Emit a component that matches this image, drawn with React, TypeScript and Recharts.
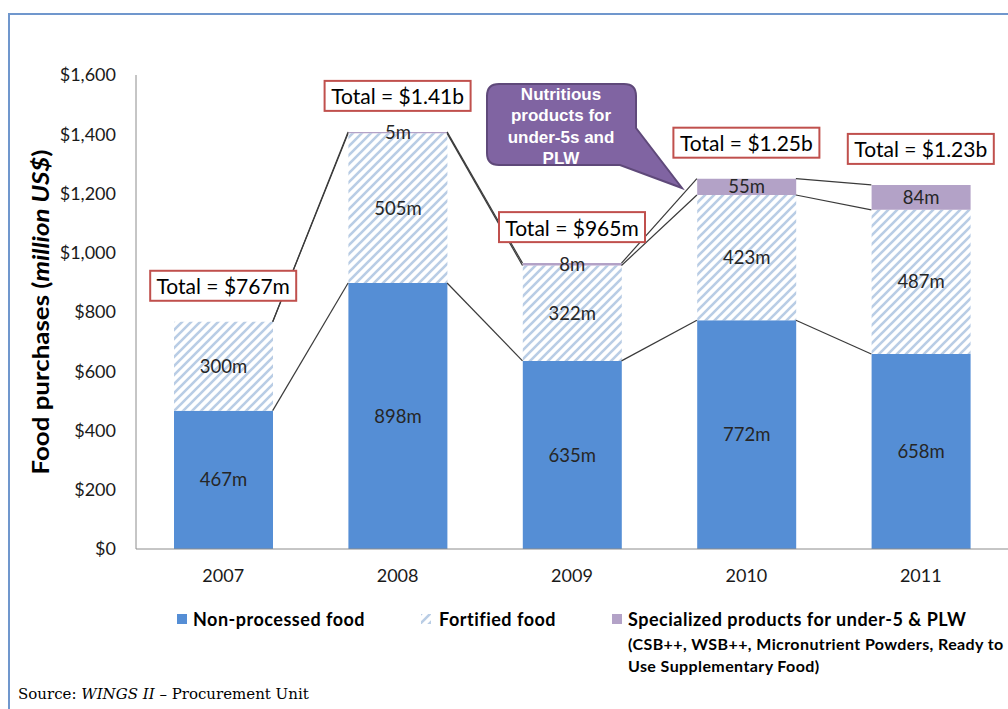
import React from 'react';
import { ComposedChart, Bar, XAxis, YAxis, ReferenceLine, Scatter, LabelList } from 'recharts';

const years = ['2007', '2008', '2009', '2010', '2011'];
const nonProcessed = [467, 898, 635, 772, 658];
const fortified = [300, 505, 322, 423, 487];
const specialized = [0, 5, 8, 55, 84];
const totalLabels = ['Total = $767m', 'Total = $1.41b', 'Total = $965m', 'Total = $1.25b', 'Total = $1.23b'];
const yTicks = [0, 200, 400, 600, 800, 1000, 1200, 1400, 1600];

const FONT = 'Lato, "Noto Sans", sans-serif';
const CHART_W = 1010;
const CHART_H = 709;
const MARGIN = { top: 75, right: 2, bottom: 130, left: 76 };
const YAXIS_W = 60;
const BAR_SIZE = 99;
const plotW = CHART_W - MARGIN.left - MARGIN.right - YAXIS_W;
const step = plotW / years.length;
const HALF = BAR_SIZE / step / 2;

const BLUE = '#558ed5';
const HATCH = '#b9cde5';
const PURPLE = '#b3a2c7';

const data = years.map((year, i) => ({
  idx: i,
  year,
  np: nonProcessed[i],
  fo: fortified[i],
  sp: specialized[i],
  total: nonProcessed[i] + fortified[i] + specialized[i],
  label: totalLabels[i],
}));

const levels = [
  data.map((d) => d.np),
  data.map((d) => d.np + d.fo),
  data.map((d) => d.np + d.fo + d.sp),
];

const segments: { x: number; y: number }[][] = [];
levels.forEach((lv) => {
  for (let i = 0; i < lv.length - 1; i++) {
    segments.push([
      { x: i + HALF, y: lv[i] },
      { x: i + 1 - HALF, y: lv[i + 1] },
    ]);
  }
});

const fmtM = (v: any) => (v ? `${v}m` : '');

const TotalBox = (props: any) => {
  const { cx, cy, payload } = props;
  if (cx == null || cy == null) return null;
  const w = 146;
  const h = 30;
  const gap = 21;
  return (
    <g>
      <rect x={cx - w / 2} y={cy - gap - h} width={w} height={h} fill="#fff" stroke="#c0504d" strokeWidth={2} />
      <text
        x={cx}
        y={cy - gap - h / 2}
        textAnchor="middle"
        dominantBaseline="central"
        fontSize={21}
        fontFamily={FONT}
        fill="#000"
      >
        {payload.label}
      </text>
    </g>
  );
};

const HatchDefs = ({ id }: { id: string }) => (
  <defs>
    <pattern id={id} patternUnits="userSpaceOnUse" width={9} height={9}>
      <rect width={9} height={9} fill="#fff" />
      <path d="M-2,2 L2,-2 M0,9 L9,0 M7,11 L11,7" stroke={HATCH} strokeWidth={2.6} />
    </pattern>
  </defs>
);

const legendText = { fontFamily: FONT, fontWeight: 'bold' as const, fill: '#000' };

export default function App() {
  return (
    <div style={{ position: 'absolute', left: 0, top: 0, width: 1008, height: 709, overflow: 'hidden', background: '#fff' }}>
      <ComposedChart
        width={CHART_W}
        height={CHART_H}
        data={data}
        margin={MARGIN}
        style={{ fontFamily: FONT }}
      >
        <HatchDefs id="hatch" />
        <XAxis
          dataKey="idx"
          type="number"
          domain={[-0.5, 4.5]}
          ticks={[0, 1, 2, 3, 4]}
          tickFormatter={(v: number) => years[v]}
          tickLine={false}
          axisLine={{ stroke: '#8c8c8c' }}
          tick={{ fontSize: 18, fill: '#1a1a1a', fontFamily: FONT }}
          tickSize={6}
          tickMargin={14}
          height={30}
          allowDataOverflow
        />
        <YAxis
          type="number"
          domain={[0, 1600]}
          ticks={yTicks}
          tickFormatter={(v: number) => `$${v.toLocaleString('en-US')}`}
          tickLine={false}
          axisLine={{ stroke: '#8c8c8c' }}
          tick={{ fontSize: 18, fill: '#1a1a1a', fontFamily: FONT }}
          tickSize={6}
          tickMargin={14}
          width={YAXIS_W}
          interval={0}
        />
        <Bar dataKey="np" stackId="a" fill={BLUE} barSize={BAR_SIZE} isAnimationActive={false}>
          <LabelList dataKey="np" position="center" formatter={fmtM} fill="#262626" fontSize={18.5} fontFamily={FONT} />
        </Bar>
        <Bar dataKey="fo" stackId="a" fill="url(#hatch)" barSize={BAR_SIZE} isAnimationActive={false}>
          <LabelList dataKey="fo" position="center" formatter={fmtM} fill="#262626" fontSize={18.5} fontFamily={FONT} />
        </Bar>
        <Bar dataKey="sp" stackId="a" fill={PURPLE} barSize={BAR_SIZE} isAnimationActive={false}>
          <LabelList dataKey="sp" position="center" formatter={fmtM} fill="#262626" fontSize={18.5} fontFamily={FONT} />
        </Bar>
        {segments.map((seg, i) => (
          <ReferenceLine key={i} segment={seg} stroke="#3a3a3a" strokeWidth={1.2} />
        ))}
        <Scatter dataKey="total" shape={TotalBox} isAnimationActive={false} />
      </ComposedChart>

      <svg width={1008} height={709} style={{ position: 'absolute', left: 0, top: 0, pointerEvents: 'none' }}>
        <HatchDefs id="hatch2" />
        {/* frame */}
        <path d="M9,709 L9,14 L1008,14" fill="none" stroke="#7097cd" strokeWidth={2} />
        {/* y-axis title */}
        <text
          x={40}
          y={312}
          transform="rotate(-90, 40, 312)"
          textAnchor="middle"
          dominantBaseline="central"
          fontFamily={FONT}
          fontSize={22}
          fontWeight="bold"
          fill="#000"
          textLength={325}
          lengthAdjust="spacingAndGlyphs"
        >
          Food purchases (<tspan fontStyle="italic">million US$</tspan>)
        </text>
        {/* callout */}
        <path
          d="M499,84 H624 Q636,84 636,96 V128 L682,188 L620,165 H499 Q487,165 487,153 V96 Q487,84 499,84 Z"
          fill="#8064a2"
          stroke="#5f497a"
          strokeWidth={2}
        />
        {['Nutritious', 'products for', 'under-5s and', 'PLW'].map((t, i) => (
          <text
            key={t}
            x={561}
            y={94 + i * 21.5}
            textAnchor="middle"
            dominantBaseline="central"
            fontFamily='"Liberation Sans", Arial, sans-serif'
            fontWeight="bold"
            fontSize={17}
            fill="#fff"
          >
            {t}
          </text>
        ))}
        {/* legend */}
        <rect x={177} y={614} width={10} height={10} fill={BLUE} />
        <text x={193} y={619} dominantBaseline="central" fontSize={18} letterSpacing={0.5} {...legendText}>
          Non-processed food
        </text>
        <rect x={421} y={614} width={10} height={10} fill="url(#hatch2)" />
        <text x={439} y={619} dominantBaseline="central" fontSize={18} letterSpacing={0.5} {...legendText}>
          Fortified food
        </text>
        <rect x={612} y={614} width={10} height={10} fill={PURPLE} />
        <text x={628} y={619} dominantBaseline="central" fontSize={18} letterSpacing={0.5} {...legendText}>
          Specialized products for under-5 &amp; PLW
        </text>
        <text x={628} y={643} dominantBaseline="central" fontSize={16} letterSpacing={0.4} {...legendText}>
          (CSB++, WSB++,  Micronutrient Powders, Ready to
        </text>
        <text x={628} y={665} dominantBaseline="central" fontSize={16} letterSpacing={0.4} {...legendText}>
          Use Supplementary Food)
        </text>
        {/* source */}
        <text x={18} y={699} fontFamily='"DejaVu Serif", serif' fontSize={15} fill="#000">
          Source: <tspan fontStyle="italic">WINGS II</tspan> – Procurement Unit
        </text>
      </svg>
    </div>
  );
}
